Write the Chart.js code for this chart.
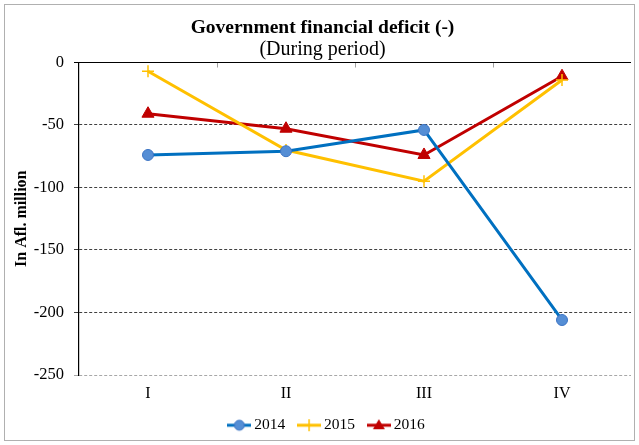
<!DOCTYPE html>
<html><head><meta charset="utf-8">
<script src="https://cdn.jsdelivr.net/npm/chart.js@4/dist/chart.umd.min.js"></script>
<style>
html,body{margin:0;padding:0;background:#fff;}
#wrap{position:relative;width:639px;height:445px;}
#frame{position:absolute;left:4px;top:4px;width:629px;height:435px;border:1px solid #b0b0b0;pointer-events:none;}
canvas{position:absolute;left:0;top:0;}
</style></head>
<body>
<div id="wrap"><canvas id="c" width="639" height="445"></canvas><div id="frame"></div></div>
<script>
const categories = ['I','II','III','IV'];
const series2014 = [-74, -71, -54, -206];
const series2015 = [-7, -70, -95, -14];
const series2016 = [-41, -53, -74, -11];
const yTicks = [0, -50, -100, -150, -200, -250];

const FONT = "'Liberation Serif','Times New Roman',serif";

function legendIcon(color, draw) {
  const cv = document.createElement('canvas');
  cv.width = 24; cv.height = 14;
  const g = cv.getContext('2d');
  g.strokeStyle = color; g.lineWidth = 3;
  g.beginPath(); g.moveTo(0, 7); g.lineTo(24, 7); g.stroke();
  draw(g);
  return cv;
}
const icon2014 = legendIcon('#0070C0', g => {
  g.beginPath(); g.arc(12, 7, 5, 0, Math.PI * 2);
  g.fillStyle = '#558ED5'; g.fill(); g.lineWidth = 1; g.strokeStyle = '#3C74C4'; g.stroke();
});
const icon2015 = legendIcon('#FFC000', g => {
  g.lineWidth = 1.5; g.strokeStyle = '#FFC000';
  g.beginPath(); g.moveTo(12, 1); g.lineTo(12, 13); g.stroke();
});
const icon2016 = legendIcon('#C00000', g => {
  g.beginPath(); g.moveTo(12, 1); g.lineTo(18, 11); g.lineTo(6, 11); g.closePath();
  g.fillStyle = '#C00000'; g.fill();
});

const axisPlugin = {
  id: 'axisLines',
  afterLayout(chart) {
    if (chart.legend) { chart.legend.left += 6; chart.legend.right += 6; }
  },
  afterDatasetsDraw(chart) {
    const ctx = chart.ctx, x = chart.scales.x, y = chart.scales.y;
    const a = chart.chartArea;
    const y0 = Math.round(y.getPixelForValue(0)) + 0.5;
    ctx.save();
    ctx.strokeStyle = '#a0a0a0'; ctx.lineWidth = 1;
    for (let i = 0; i < categories.length - 1; i++) {
      const xb = Math.round((x.getPixelForValue(i) + x.getPixelForValue(i + 1)) / 2) + 0.5;
      ctx.beginPath(); ctx.moveTo(xb, y0); ctx.lineTo(xb, y0 + 5); ctx.stroke();
    }
    ctx.strokeStyle = '#000'; ctx.lineWidth = 1.2;
    ctx.beginPath(); ctx.moveTo(a.left - 5, y0); ctx.lineTo(a.right, y0); ctx.stroke();
    ctx.restore();
  }
};

new Chart(document.getElementById('c'), {
  type: 'line',
  data: {
    labels: categories,
    datasets: [
      { label: '2014', data: series2014, borderColor: '#0070C0', backgroundColor: '#558ED5',
        pointBorderColor: '#3C74C4', pointBorderWidth: 1, pointRadius: 5.5, pointStyle: 'circle',
        borderWidth: 3, tension: 0, legendIcon: icon2014 },
      { label: '2015', data: series2015, borderColor: '#FFC000', backgroundColor: '#FFC000',
        pointBorderColor: '#FFC000', pointBorderWidth: 1.5, pointRadius: 6, pointStyle: 'cross',
        borderWidth: 3, tension: 0, legendIcon: icon2015 },
      { label: '2016', data: series2016, borderColor: '#C00000', backgroundColor: '#C00000',
        pointBorderColor: '#C00000', pointBorderWidth: 1, pointRadius: 7, pointStyle: 'triangle',
        borderWidth: 3, tension: 0, legendIcon: icon2016 }
    ]
  },
  options: {
    responsive: false,
    animation: false,
    layout: { padding: { left: 12, right: 6, top: 0, bottom: 2 } },
    plugins: {
      title: { display: true, text: 'Government financial deficit (-)', color: '#000',
        font: { family: FONT, size: 19.5, weight: 'bold', lineHeight: 1.1 }, padding: { top: 17, bottom: 0 } },
      subtitle: { display: true, text: '(During period)', color: '#000',
        font: { family: FONT, size: 20, weight: 'normal', lineHeight: 1.1 }, padding: { top: 0, bottom: 2 } },
      legend: { position: 'bottom',
        labels: { color: '#000', font: { family: FONT, size: 15.5 }, usePointStyle: true,
          pointStyleWidth: 14, padding: 17,
          generateLabels(chart) {
            return chart.data.datasets.map((d, i) => ({
              text: d.label, pointStyle: d.legendIcon, fillStyle: d.borderColor,
              strokeStyle: d.borderColor, lineWidth: 0, hidden: false, datasetIndex: i, fontColor: '#000'
            }));
          } } },
      tooltip: { enabled: false }
    },
    scales: {
      x: { offset: true, grid: { display: false, drawTicks: false }, border: { display: false },
        ticks: { color: '#000', font: { family: FONT, size: 16 }, padding: 9 },
        afterFit(s) { s.height = 25.5; } },
      y: { min: -250, max: 0,
        afterBuildTicks(s) { s.ticks = yTicks.map(v => ({ value: v })); },
        grid: { drawTicks: true, tickLength: 5,
          color: c => c.tick.value === 0 ? 'rgba(0,0,0,0)' : (c.tick.value === -250 ? '#a8a8a8' : '#404040'),
          lineWidth: 1 },
        border: { display: true, color: '#000', width: 1.2, dash: [3, 2] },
        ticks: { color: '#000', font: { family: FONT, size: 16.5 }, padding: 10 },
        title: { display: true, text: 'In Afl. million', color: '#000',
          font: { family: FONT, size: 16, weight: 'bold' }, padding: { top: 0, bottom: 0 } },
        afterFit(s) { s.width = 67; } }
    }
  },
  plugins: [axisPlugin]
});
</script>
</body></html>
